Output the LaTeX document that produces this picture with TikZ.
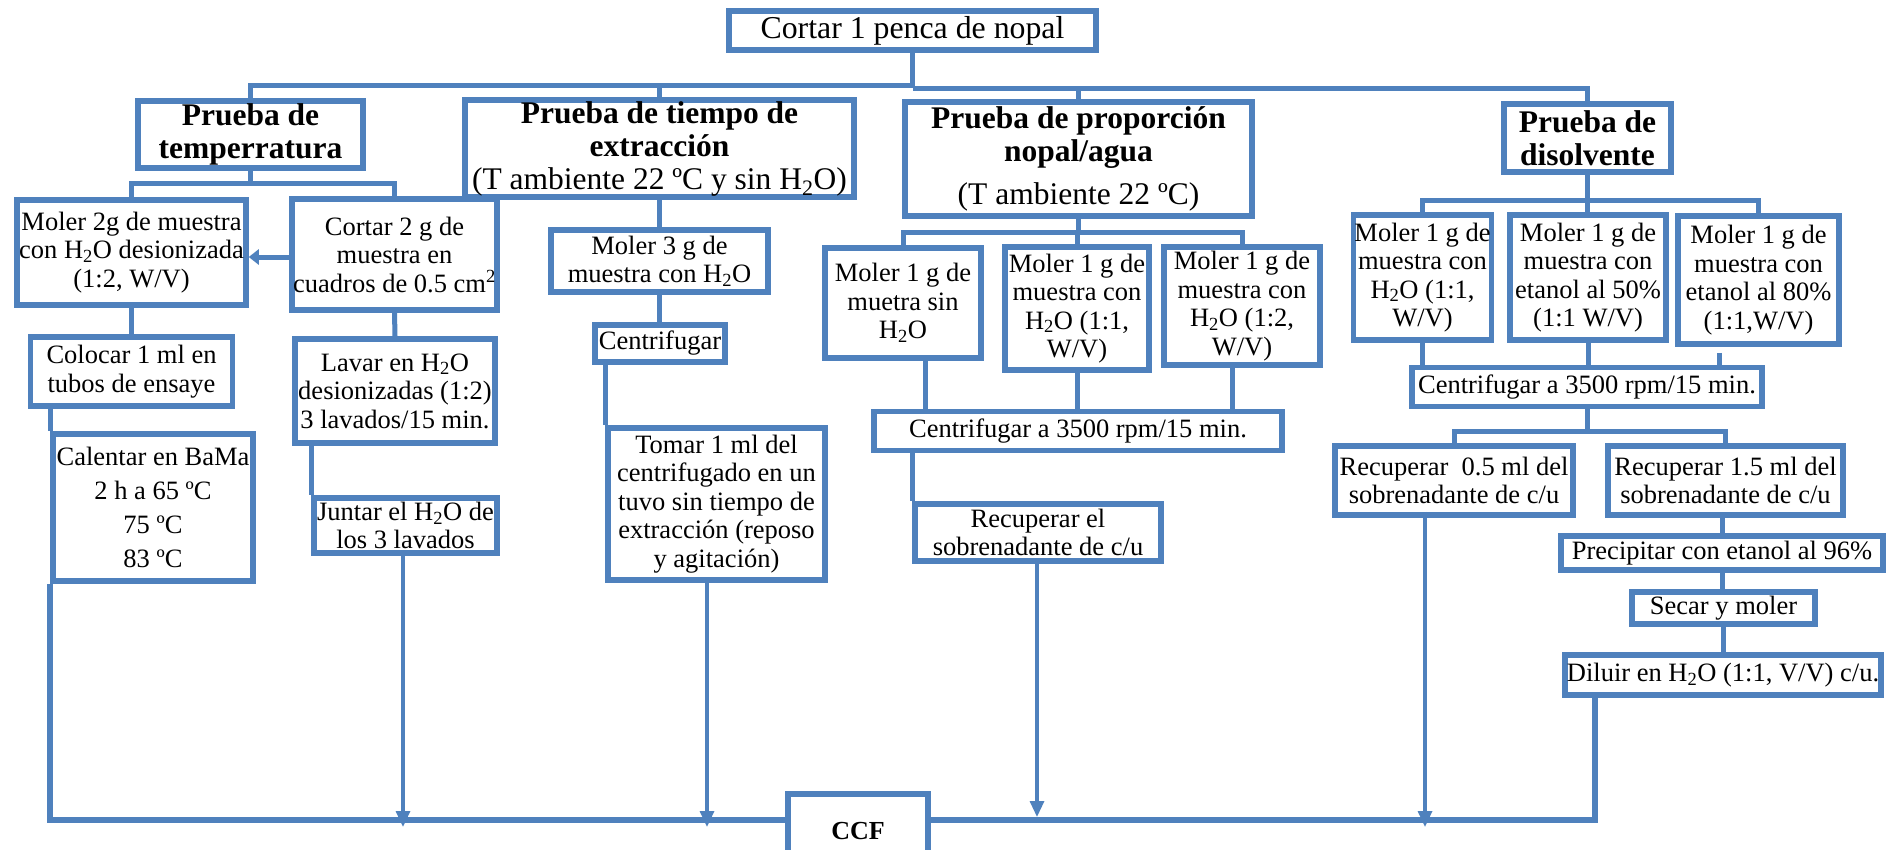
\documentclass[tikz,border=0pt]{standalone}
\usepackage{fontspec}
\setmainfont{Liberation Serif}
\usetikzlibrary{arrows.meta}
\definecolor{flow}{RGB}{79,129,189}
\newcommand{\HdO}{H\textsubscript{2}O}

\begin{document}
\begin{tikzpicture}[x=1pt,y=-1pt,
  box/.style={draw=flow, line width=5.5pt, fill=white, inner sep=1pt, align=center,
              font=\fontsize{26.5}{28.5}\selectfont},
  head/.style={box, font=\fontsize{31.5}{33}\selectfont\bfseries},
  link/.style={draw=flow, line width=5pt},
  bus/.style={draw=flow, line width=6pt},
  feed/.style={draw=flow, line width=3.2pt, -{Triangle[length=16pt,width=14pt]}},
  side/.style={draw=flow, line width=5pt, -{Triangle[length=10pt,width=15pt]}},
]
\useasboundingbox (0,0) rectangle (1887,849);
\fill[white] (0,0) rectangle (1887,849);
\clip (0,0) rectangle (1887,849);

% rails and fixed columns
\coordinate (busTop) at (0,85);
\coordinate (busTopR) at (0,88);
\coordinate (busTemp) at (0,183);
\coordinate (busProp) at (0,232);
\coordinate (busDis) at (0,200);
\coordinate (busDis2) at (0,431);
\coordinate (busBot) at (0,820);
\coordinate (yArr) at (0,257);
\coordinate (xTom) at (707,0);
\coordinate (xSin) at (925,0);
\coordinate (xRec) at (1037,0);
\coordinate (xM12) at (1232,0);
\coordinate (xD80) at (1719,0);
\coordinate (xR05) at (1425,0);
\coordinate (xDil) at (1595,0);
\coordinate (xJun) at (403,0);

% ---- boxes ----
\node[box, minimum width=367, minimum height=39, font=\fontsize{31.8}{34}\selectfont]
  (top) at (912.5,30.5) {Cortar 1 penca de nopal};

\node[head, minimum width=225, minimum height=67] (temp) at (250.5,134.5)
  {Prueba de\\temperratura};
\node[head, minimum width=389, minimum height=93] (tiempo) at (659.5,148.5)
  {Prueba de tiempo de\\extracción\\{\mdseries(T ambiente 22 ºC y sin \HdO)}};
\node[head, minimum width=347, minimum height=114] (prop) at (1078.5,159)
  {Prueba de proporción\\nopal/agua\\[10pt]{\mdseries(T ambiente 22 ºC)}};
\node[head, minimum width=167, minimum height=68] (disol) at (1587.5,138)
  {Prueba de\\disolvente};

% temperature branch
\node[box, minimum width=229, minimum height=105] (m2g) at (131.5,252.5)
  {Moler 2g de muestra\\con \HdO{} desionizada\\(1:2, W/V)};
\node[box, minimum width=203, minimum height=111] (c2g) at (394.5,254.5)
  {Cortar 2 g de\\muestra en\\cuadros de 0.5 cm\textsuperscript{2}};
\node[box, minimum width=202, minimum height=69] (col) at (131.5,371.5)
  {Colocar 1 ml en\\tubos de ensaye};
\node[box, minimum width=200, minimum height=104] (lav) at (395,391)
  {Lavar en \HdO\\desionizadas (1:2)\\3 lavados/15 min.};
\node[box, minimum width=200, minimum height=147, font=\fontsize{26.5}{34}\selectfont]
  (cal) at (153,507.5) {Calentar en BaMa\\2 h a 65 ºC\\75 ºC\\83 ºC};
\node[box, minimum width=183, minimum height=55] (jun) at (405.5,525.5)
  {Juntar el \HdO{} de\\los 3 lavados};

% extraction-time branch
\node[box, minimum width=217, minimum height=62] (m3g) at (659.5,261)
  {Moler 3 g de\\muestra con \HdO};
\node[box, minimum width=130, minimum height=37] (cen1) at (660,343.5) {Centrifugar};
\node[box, minimum width=217, minimum height=152] (tom) at (716.5,504)
  {Tomar 1 ml del\\centrifugado en un\\tuvo sin tiempo de\\extracción (reposo\\y agitación)};

% proportion branch
\node[box, minimum width=156, minimum height=110] (msin) at (903,303)
  {Moler 1 g de\\muetra sin\\\HdO};
\node[box, minimum width=144, minimum height=123] (m11) at (1077,308.5)
  {Moler 1 g de\\muestra con\\\HdO{} (1:1,\\W/V)};
\node[box, minimum width=156, minimum height=118] (m12) at (1242,306)
  {Moler 1 g de\\muestra con\\\HdO{} (1:2,\\W/V)};
\node[box, minimum width=408, minimum height=39] (cen2) at (1078,431)
  {Centrifugar a 3500 rpm/15 min.};
\node[box, minimum width=246, minimum height=57] (rec) at (1038,532.5)
  {Recuperar el\\sobrenadante de c/u};

% solvent branch
\node[box, minimum width=137, minimum height=125] (d11) at (1422.5,277.5)
  {Moler 1 g de\\muestra con\\\HdO{} (1:1,\\W/V)};
\node[box, minimum width=156, minimum height=125] (d50) at (1588,277.5)
  {Moler 1 g de\\muestra con\\etanol al 50\%\\(1:1 W/V)};
\node[box, minimum width=161, minimum height=128] (d80) at (1758.5,280)
  {Moler 1 g de\\muestra con\\etanol al 80\%\\(1:1,W/V)};
\node[box, minimum width=350, minimum height=39] (cen3) at (1587,387)
  {Centrifugar a 3500 rpm/15 min.};
\node[box, minimum width=238, minimum height=69] (r05) at (1454,480.5)
  {Recuperar\ \ 0.5 ml del\\sobrenadante de c/u};
\node[box, minimum width=235, minimum height=69] (r15) at (1725.5,480.5)
  {Recuperar 1.5 ml del\\sobrenadante de c/u};
\node[box, minimum width=322, minimum height=34] (pre) at (1722,553)
  {Precipitar con etanol al 96\%};
\node[box, minimum width=183, minimum height=32] (sec) at (1723.5,608)
  {Secar y moler};
\node[box, minimum width=316, minimum height=40] (dil) at (1723,675)
  {Diluir en \HdO{} (1:1, V/V) c/u.};

% collector
\node[box, minimum width=140, minimum height=74, font=\fontsize{26}{28}\selectfont\bfseries]
  (ccf) at (858,831) {CCF};

% ---- connectors ----
% top level
\draw[link] (top.south) -- (top.south |- busTop) -| (temp.north);
\draw[link] (top.south |- busTop) -| (tiempo.north);
\draw[link] (top.south |- busTopR) -| (prop.north);
\draw[link] (top.south |- busTopR) -| (disol.north);

% temperature
\draw[link] (temp.south) -- (temp.south |- busTemp) -| (m2g.north);
\draw[link] (temp.south |- busTemp) -| (c2g.north);
\draw[side] (c2g.west |- yArr) -- (m2g.east |- yArr);
\draw[link] (m2g.south) -- (col.north);
\draw[link] (col.south -| cal.west) -- (cal.north west);
\draw[link] (c2g.south) -- (lav.north);
\draw[link] (lav.south -| jun.west) -- (jun.north west);
\draw[bus] (cal.south west) -- (cal.south west |- busBot) -- (ccf.west |- busBot);
\draw[feed] ([yshift=4pt]jun.south -| xJun) -- ([yshift=-7pt]xJun |- busBot);

% extraction time
\draw[link] (tiempo.south) -- (m3g.north);
\draw[link] (m3g.south) -- (cen1.north -| m3g.south);
\draw[link] (cen1.south -| tom.west) -- (tom.north west);
\draw[feed] (tom.south -| xTom) -- ([yshift=-7pt]xTom |- busBot);

% proportion
\draw[link] (prop.south) -- (prop.south |- busProp) -| (msin.north);
\draw[link] (prop.south |- busProp) -| (m11.north);
\draw[link] (prop.south |- busProp) -| (m12.north);
\draw[link] (msin.south -| xSin) -- (cen2.north -| xSin);
\draw[link] (m11.south) -- (cen2.north -| m11.south);
\draw[link] (m12.south -| xM12) -- (cen2.north -| xM12);
\draw[link] (cen2.south -| rec.west) -- (rec.north west);
\draw[feed] ([yshift=5pt]rec.south -| xRec) -- ([yshift=3pt]xRec |- busBot);

% solvent
\draw[link] (disol.south) -- (disol.south |- busDis) -| (d11.north);
\draw[link] (disol.south |- busDis) -| (d80.north);
\draw[link] (disol.south |- busDis) -- (d50.north -| disol.south);
\draw[link] (d11.south) -- (cen3.north -| d11.south);
\draw[link] (d50.south) -- (cen3.north -| d50.south);
\draw[link] ([yshift=-6pt]d80.south -| xD80) -- (cen3.north -| xD80);
\draw[link] (cen3.south) -- (cen3.south |- busDis2) -| (r05.north);
\draw[link] (cen3.south |- busDis2) -| (r15.north);
\draw[feed] ([yshift=6pt]r05.south -| xR05) -- ([yshift=-7pt]xR05 |- busBot);
\draw[link] (r15.south -| pre.north) -- (pre.north);
\draw[link] (pre.south) -- (sec.north -| pre.south);
\draw[link] (sec.south) -- (dil.north -| sec.south);
\draw[bus] (dil.south -| xDil) -- (xDil |- busBot) -- (ccf.east |- busBot);
\end{tikzpicture}
\end{document}
